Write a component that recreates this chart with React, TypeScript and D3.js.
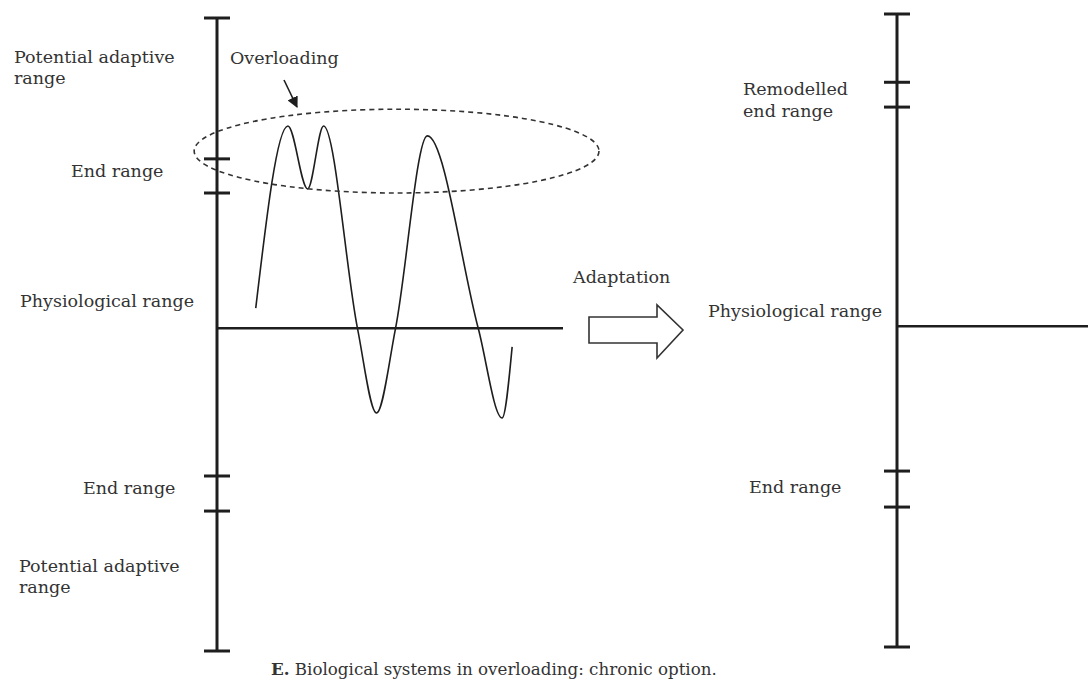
import React from "react";
import * as d3 from "d3";

// ---- data ----
// Left panel: range boundaries (tick values on the left vertical axis)
const leftTicks = [100, 54.6, 43.6, -47.6, -58.9, -104];
// Right panel: range boundaries after adaptation
const rightTicks = [100.6, 78.6, 70.6, -46.7, -58.3, -103.4];

// Wave (load over time) in the left panel
const waveT = [11.2, 20.5, 26.2, 30.8, 40.6, 46.1, 51.6, 60.8, 75.5, 82.4, 85.3];
const waveV = [6.5, 65.2, 44.9, 65.2, 0, -27.3, 0, 62.0, 0, -28.9, -6.0];

// Overloading ellipse (center t, center v, radius t, radius v)
const ellipseC = [51.9, 57.1];
const ellipseR = [58.5, 13.5];

const W = 1088;
const H = 681;
const INK = "#1e1e1e";
const TXT = "#333333";
const FONT = "'DejaVu Serif', 'Liberation Serif', serif";

export default function App() {
  const xL = d3.scaleLinear().domain([0, 100]).range([217, 563]);
  const yL = d3.scaleLinear().domain([-104, 100]).range([651, 18]);
  const xR = d3.scaleLinear().domain([0, 100]).range([897, 1088]);
  const yR = d3.scaleLinear().domain([-103.4, 100.6]).range([647, 14]);

  const pts: [number, number][] = waveT.map((t, i) => [xL(t), yL(waveV[i])]);
  const wavePath = d3.line().curve(d3.curveMonotoneX)(pts) || "";

  const ecx = xL(ellipseC[0]);
  const ecy = yL(ellipseC[1]);
  const erx = xL(ellipseR[0]) - xL(0);
  const ery = yL(0) - yL(ellipseR[1]);

  const tickHalf = 13;

  // block arrow
  const ax0 = 589, ax1 = 657, ax2 = 683, ay = 330;
  const arrowPath = `M${ax0},${ay - 13} L${ax1},${ay - 13} L${ax1},${ay - 25} L${ax2},${ay} L${ax1},${ay + 28} L${ax1},${ay + 13} L${ax0},${ay + 13} Z`;

  const labelStyle: React.CSSProperties = { fontFamily: FONT, fontSize: 17.5, fill: TXT };

  return (
    <svg width={W} height={H} style={{ position: "absolute", left: 0, top: 0, background: "#fff" }}>
      <defs>
        <marker id="ah" viewBox="0 0 10 10" refX="9" refY="5" markerWidth="7" markerHeight="7" orient="auto">
          <path d="M0,0 L10,5 L0,10 Z" fill={INK} />
        </marker>
      </defs>

      {/* Left axis */}
      <line x1={xL(0)} x2={xL(0)} y1={yL(leftTicks[0])} y2={yL(leftTicks[5])} stroke={INK} strokeWidth={3} />
      {leftTicks.map((v, i) => (
        <line key={"lt" + i} x1={xL(0) - tickHalf} x2={xL(0) + tickHalf} y1={yL(v)} y2={yL(v)} stroke={INK} strokeWidth={3} />
      ))}
      <line x1={xL(0)} x2={xL(100)} y1={yL(0)} y2={yL(0)} stroke={INK} strokeWidth={2.5} />

      {/* Wave */}
      <path d={wavePath} fill="none" stroke={INK} strokeWidth={1.6} />

      {/* Ellipse */}
      <ellipse cx={ecx} cy={ecy} rx={erx} ry={ery} fill="none" stroke="#333" strokeWidth={1.6} strokeDasharray="5 4" />

      {/* Overloading pointer */}
      <line x1={284} y1={80} x2={297} y2={107} stroke={INK} strokeWidth={1.6} markerEnd="url(#ah)" />

      {/* Right axis */}
      <line x1={xR(0)} x2={xR(0)} y1={yR(rightTicks[0])} y2={yR(rightTicks[5])} stroke={INK} strokeWidth={3} />
      {rightTicks.map((v, i) => (
        <line key={"rt" + i} x1={xR(0) - tickHalf} x2={xR(0) + tickHalf} y1={yR(v)} y2={yR(v)} stroke={INK} strokeWidth={3} />
      ))}
      <line x1={xR(0)} x2={xR(100)} y1={yR(0)} y2={yR(0)} stroke={INK} strokeWidth={2.5} />

      {/* Adaptation arrow */}
      <path d={arrowPath} fill="#fff" stroke="#333" strokeWidth={1.6} strokeLinejoin="miter" />

      {/* Labels left */}
      <text x={14} y={63} style={labelStyle}>Potential adaptive</text>
      <text x={14} y={84} style={labelStyle}>range</text>
      <text x={230} y={64} style={labelStyle}>Overloading</text>
      <text x={71} y={177} style={labelStyle}>End range</text>
      <text x={20} y={307} style={labelStyle}>Physiological range</text>
      <text x={83} y={494} style={labelStyle}>End range</text>
      <text x={19} y={572} style={labelStyle}>Potential adaptive</text>
      <text x={19} y={593} style={labelStyle}>range</text>

      {/* Labels middle / right */}
      <text x={573} y={283} style={labelStyle}>Adaptation</text>
      <text x={708} y={317} style={labelStyle}>Physiological range</text>
      <text x={743} y={95} style={labelStyle}>Remodelled</text>
      <text x={743} y={117} style={labelStyle}>end range</text>
      <text x={749} y={493} style={labelStyle}>End range</text>

      {/* Caption */}
      <text x={271} y={675} style={{ fontFamily: FONT, fontSize: 16.7, fill: TXT }}>
        <tspan fontWeight="bold">E.</tspan> Biological systems in overloading: chronic option.
      </text>
    </svg>
  );
}
